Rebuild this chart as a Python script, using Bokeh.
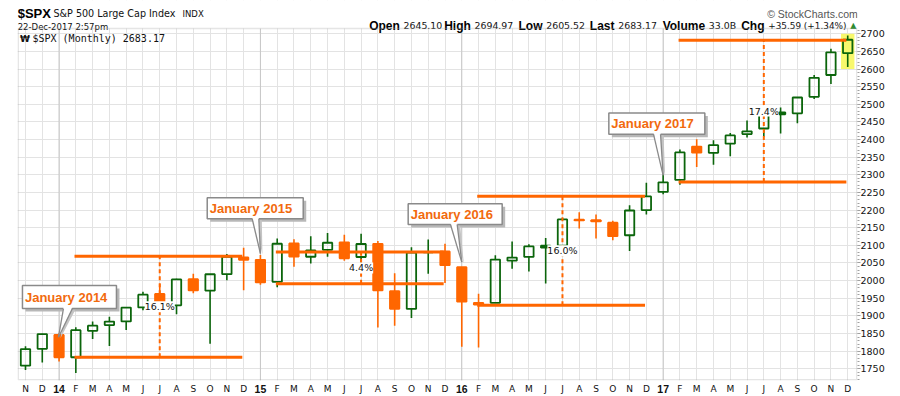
from bokeh.plotting import figure
from bokeh.models import Range1d, FixedTicker, Label, BoxAnnotation, LinearAxis
from bokeh.core.properties import value
from bokeh.embed import file_html
from bokeh.resources import INLINE

# ---------------- data ----------------
month_labels = ["N", "D", "14", "F", "M", "A", "M", "J", "J", "A", "S", "O", "N", "D",
                "15", "F", "M", "A", "M", "J", "J", "A", "S", "O", "N", "D",
                "16", "F", "M", "A", "M", "J", "J", "A", "S", "O", "N", "D",
                "17", "F", "M", "A", "M", "J", "J", "A", "S", "O", "N", "D"]
year_labels = ["14", "15", "16", "17"]

opens = [1758.70, 1806.55, 1845.86, 1782.68, 1857.68, 1873.96, 1884.39, 1923.87, 1962.29, 1929.80,
         2004.07, 1971.44, 2018.21, 2065.78, 2058.90, 1996.67, 2105.23, 2067.63, 2087.38, 2108.64,
         2067.00, 2104.49, 1970.09, 1919.65, 2080.76, 2082.93, 2038.20, 1936.94, 1937.09, 2056.62,
         2067.17, 2093.94, 2099.34, 2173.15, 2171.33, 2164.33, 2128.68, 2200.17, 2251.57, 2285.59,
         2380.13, 2362.34, 2388.50, 2415.65, 2431.39, 2477.10, 2474.42, 2521.20, 2583.21, 2645.10]
highs = [1813.55, 1849.44, 1850.84, 1867.92, 1883.97, 1897.28, 1924.03, 1968.17, 1991.39, 2005.04,
         2019.26, 2018.19, 2075.76, 2093.55, 2072.36, 2119.59, 2117.52, 2125.92, 2134.72, 2129.87,
         2132.82, 2112.66, 2020.86, 2094.32, 2116.48, 2104.27, 2038.20, 1962.96, 2072.21, 2111.05,
         2103.48, 2120.55, 2177.09, 2193.81, 2187.87, 2169.60, 2214.10, 2277.53, 2300.99, 2371.54,
         2400.98, 2398.16, 2418.71, 2453.82, 2484.04, 2490.87, 2519.44, 2582.98, 2657.74, 2694.97]
lows = [1746.20, 1767.99, 1770.45, 1737.92, 1834.44, 1814.36, 1859.79, 1915.98, 1930.67, 1904.78,
        1964.04, 1820.66, 2001.01, 1972.56, 1988.12, 1980.90, 2039.69, 2048.38, 2067.93, 2056.32,
        2044.02, 1867.01, 1871.91, 1893.70, 2019.39, 1993.26, 1812.29, 1810.10, 1937.09, 2033.80,
        2025.91, 1991.68, 2074.02, 2147.58, 2119.12, 2114.72, 2083.79, 2187.44, 2245.13, 2271.65,
        2322.25, 2328.95, 2352.72, 2405.70, 2407.70, 2417.35, 2446.55, 2515.19, 2557.45, 2605.52]
closes = [1805.81, 1848.36, 1782.59, 1859.45, 1872.34, 1883.95, 1923.57, 1960.23, 1930.67, 2003.37,
          1972.29, 2018.05, 2067.56, 2058.90, 1994.99, 2104.50, 2067.89, 2085.51, 2107.39, 2063.11,
          2103.84, 1972.18, 1920.03, 2079.36, 2080.41, 2043.94, 1940.24, 1932.23, 2059.74, 2065.30,
          2096.95, 2098.86, 2173.60, 2170.95, 2168.27, 2126.15, 2198.81, 2238.83, 2278.87, 2363.64,
          2362.72, 2384.20, 2411.80, 2423.41, 2470.30, 2471.65, 2519.36, 2575.26, 2647.58, 2683.17]
close_before_first = 1756.54

y_tick_values = [1750, 1800, 1850, 1900, 1950, 2000, 2050, 2100, 2150, 2200, 2250, 2300, 2350,
                 2400, 2450, 2500, 2550, 2600, 2650, 2700]

range_start = [3, 15, 27, 39]
range_end = [13, 25, 37, 49]
range_mid = [8, 20, 32, 44]
range_low = [1782.6, 1991.0, 1930.0, 2280.0]
range_high = [2069.0, 2081.0, 2239.0, 2682.0]
range_pct = ["16.1%", "4.4%", "16.0%", "17.4%"]

callout_text = ["January 2014", "January 2015", "January 2016", "January 2017"]
callout_month = [2, 14, 26, 38]

header_labels = ["Open", "High", "Low", "Last", "Volume", "Chg"]
header_values = ["2645.10", "2694.97", "2605.52", "2683.17", "33.0B", "+35.59 (+1.34%)"]

# ---------------- style / layout ----------------
GREEN = "#0b650b"
ORANGE = "#ff6600"
W, H = 900, 396
BL, BR, BT, BB = 17, 43, 0, 16
FW = W - BL - BR
FH = H - BT - BB
PPX = 16.78
PPY = 17.63 / 50.0
X0 = -(25 - BL) / PPX
X1 = X0 + FW / PPX
Y1 = 2700 + 33.3 / PPY
Y0 = Y1 - FH / PPY
DATA_TOP = 2715.0
n = len(closes)
xs = list(range(n))
year_idx = [i for i, lab in enumerate(month_labels) if lab in year_labels]


def at_x(px):
    return X0 + (px - BL) / PPX


def at_y(py):
    return Y1 - py / PPY


p = figure(width=W, height=H, x_range=Range1d(X0, X1), y_range=Range1d(Y0, Y1),
           output_backend="svg", toolbar_location=None, y_axis_location="right",
           min_border_left=BL, min_border_right=BR, min_border_top=BT, min_border_bottom=BB,
           title=None)
p.background_fill_color = "white"
p.border_fill_color = "white"
p.outline_line_color = None

# x axis: month letters
xa = p.xaxis[0]
xa.ticker = FixedTicker(ticks=xs)
xa.major_label_overrides = {i: ("" if lab in year_labels else lab) for i, lab in enumerate(month_labels)}
xa.major_tick_out = 0
xa.major_tick_in = 0
xa.minor_tick_out = 0
xa.minor_tick_in = 0
xa.axis_line_color = None
xa.major_label_standoff = 3
xa.major_label_text_font = "DejaVu Sans"
xa.major_label_text_font_size = "9px"
xa.major_label_text_color = "#111111"

# second x axis: bold year labels, pulled up onto the month row
xy = LinearAxis(ticker=FixedTicker(ticks=year_idx),
                major_label_overrides={i: month_labels[i] for i in year_idx})
xy.major_tick_out = 0
xy.major_tick_in = 0
xy.minor_tick_out = 0
xy.minor_tick_in = 0
xy.axis_line_color = None
xy.major_label_standoff = -12
xy.major_label_text_font = "Liberation Sans"
xy.major_label_text_font_style = "bold"
xy.major_label_text_font_size = "10.5px"
xy.major_label_text_color = "#111111"
p.add_layout(xy, "below")

# y axis
ya = p.yaxis[0]
ya.ticker = FixedTicker(ticks=y_tick_values, minor_ticks=list(range(1720, 2711, 10)))
ya.major_tick_in = 0
ya.major_tick_out = 3
ya.minor_tick_in = 0
ya.minor_tick_out = 2
ya.major_tick_line_color = "#a0a0a0"
ya.minor_tick_line_color = "#a0a0a0"
ya.axis_line_color = None
ya.major_label_standoff = 0
ya.major_label_text_font = "DejaVu Sans"
ya.major_label_text_font_size = "9.5px"
ya.major_label_text_color = "#111111"

p.xgrid.ticker = FixedTicker(ticks=xs)
p.ygrid.ticker = FixedTicker(ticks=y_tick_values)
p.xgrid.grid_line_color = "#e3e3e3"
p.ygrid.grid_line_color = "#e3e3e3"

# darker year separators
p.segment(x0=year_idx, x1=year_idx, y0=[Y0] * len(year_idx), y1=[DATA_TOP] * len(year_idx),
          line_color="#c6c6c6", line_width=1)

# white header band above the price panel
p.quad(left=[X0], right=[X1], bottom=[DATA_TOP], top=[Y1], fill_color="white", line_color=None)

# highlight last candle
p.quad(left=[xs[-1] - 0.4], right=[xs[-1] + 0.4], bottom=[lows[-1] - 5], top=[highs[-1] + 5],
       fill_color="#f8f86c", line_color=None)

# candles
prev = [close_before_first] + closes[:-1]
colors = [GREEN if c >= pc else ORANGE for c, pc in zip(closes, prev)]
fill_alpha = [1.0 if c < o else 0.0 for o, c in zip(opens, closes)]
btop = [max(o, c) for o, c in zip(opens, closes)]
bbot = [min(o, c) for o, c in zip(opens, closes)]
p.segment(x0=xs, y0=highs, x1=xs, y1=btop, line_color=colors, line_width=1.6)
p.segment(x0=xs, y0=bbot, x1=xs, y1=lows, line_color=colors, line_width=1.6)
p.vbar(x=xs, width=0.56, top=btop, bottom=bbot, fill_color=colors, fill_alpha=fill_alpha,
       line_color=colors, line_width=1.8)

# range lines
p.segment(x0=[s - 0.08 for s in range_start], x1=[e - 0.08 for e in range_end],
          y0=range_low, y1=range_low, line_color=ORANGE, line_width=3)
p.segment(x0=[s - 0.08 for s in range_start], x1=[e - 0.08 for e in range_end],
          y0=range_high, y1=range_high, line_color=ORANGE, line_width=3)
p.segment(x0=range_mid, x1=range_mid, y0=range_low, y1=range_high,
          line_color=ORANGE, line_width=2, line_dash="4 3")
for m, lo, hi, t in zip(range_mid, range_low, range_high, range_pct):
    p.add_layout(Label(x=m, y=(lo + hi) / 2, text=t, text_align="center", text_baseline="middle",
                       text_font="DejaVu Sans", text_font_size="9.5px",
                       text_color="#111111", background_fill_color="white"))

# callouts: pixel offsets relative to candle (month, high)
callout_style = [
    dict(box=(-36.6, 57.4, -47.7, -24.7), tail=(4.4, 13.4), tip=(-0.6, 4.0)),
    dict(box=(-53.2, 42.8, -57.3, -36.3), tail=(-8.2, -1.6), tip=(0.0, -1.6)),
    dict(box=(-53.6, 40.4, -63.4, -42.7), tail=(-11.3, -4.6), tip=(0.0, -5.0)),
    dict(box=(-54.3, 41.7, -61.5, -40.2), tail=(-9.6, -2.6), tip=(0.0, 0.8)),
]


def px2x(m, dx):
    return m + dx / PPX


def px2y(v, dy):
    return v - dy / PPY


for txt, m, st in zip(callout_text, callout_month, callout_style):
    hv = highs[m]
    bx0, bx1, by0, by1 = st["box"]
    tx0, tx1 = st["tail"]
    tdx, tdy = st["tip"]
    L, R = px2x(m, bx0), px2x(m, bx1)
    T, B = px2y(hv, by0), px2y(hv, by1)
    tipx, tipy = px2x(m, tdx), px2y(hv, tdy)
    p.quad(left=[px2x(m, bx0 + 3)], right=[px2x(m, bx1 + 3)], top=[px2y(hv, by0 + 3)],
           bottom=[px2y(hv, by1 + 3)], fill_color="#b8b8b8", line_color=None)
    p.patch(x=[px2x(m, tx0 + 2), px2x(m, tx1 + 3), px2x(m, tdx + 2)],
            y=[px2y(hv, by1 + 1), px2y(hv, by1 + 1), px2y(hv, tdy + 1)],
            fill_color="#c4c4c4", line_color=None)
    p.quad(left=[L], right=[R], top=[T], bottom=[B], fill_color="white",
           line_color="#8a8a8a", line_width=1.5)
    p.patch(x=[px2x(m, tx0), px2x(m, tx1), tipx], y=[px2y(hv, by1 - 1.5), px2y(hv, by1 - 1.5), tipy],
            fill_color="white", line_color=None)
    p.segment(x0=[px2x(m, tx0), px2x(m, tx1)], y0=[B, B], x1=[tipx, tipx], y1=[tipy, tipy],
              line_color="#8a8a8a", line_width=1.3)
    p.text(x=[px2x(m, bx0 + 2.5)], y=[(T + B) / 2], text=[txt], text_align="left",
           text_baseline="middle", text_font=value("Liberation Sans"), text_font_style="bold",
           text_font_size="13px", text_color="#f26a0e")

# price panel border
p.add_layout(BoxAnnotation(left=X0 + 0.7 / PPX, right=X1 - 0.7 / PPX, bottom=Y0 + 0.7 / PPY,
                           top=DATA_TOP, fill_alpha=0.0, line_color="#a8a8a8", line_width=1.5))


# ---------------- header texts ----------------
def htext(text, px, py, font="DejaVu Sans", size="9.5px", style="normal", color="#111111", align="left"):
    p.text(x=[at_x(px)], y=[at_y(py)], text=[text], text_align=align, text_baseline="alphabetic",
           text_font=value(font), text_font_size=size, text_font_style=style, text_color=color)


htext("$SPX", 17.2, 12.8, font="Liberation Sans", size="13px", style="bold", color="#000000")
htext("S&P 500 Large Cap Index", 53, 13.3, size="9.6px")
htext("INDX", 182, 13.3, size="8.5px")
htext("\u00a9 StockCharts.com", 766.7, 13, font="Liberation Sans", size="10.5px", color="#555555")
htext("22-Dec-2017 2:57pm", 17.2, 26.7, size="8.5px")
value_x = [403, 474, 545.7, 617.7, 708.3, 767.7]
value_size = ["9.4px", "9.4px", "9.4px", "9.4px", "9.4px", "8.9px"]
for lab, val, vx, vs in zip(header_labels, header_values, value_x, value_size):
    htext(lab, vx - 3.7, 25.3, font="Liberation Sans", size="12px", style="bold",
          color="#000000", align="right")
    htext(val, vx, 25.3, size=vs)
htext("\u25b2", 849.8, 25, size="8px", color="#2e8b2e")
htext("\u20a9", 19.5, 38, size="9px", style="bold")
htext("$SPX (Monthly) 2683.17", 32, 38, font="DejaVu Sans Mono", size="10px")

open("out.html", "w").write(file_html(p, INLINE))
